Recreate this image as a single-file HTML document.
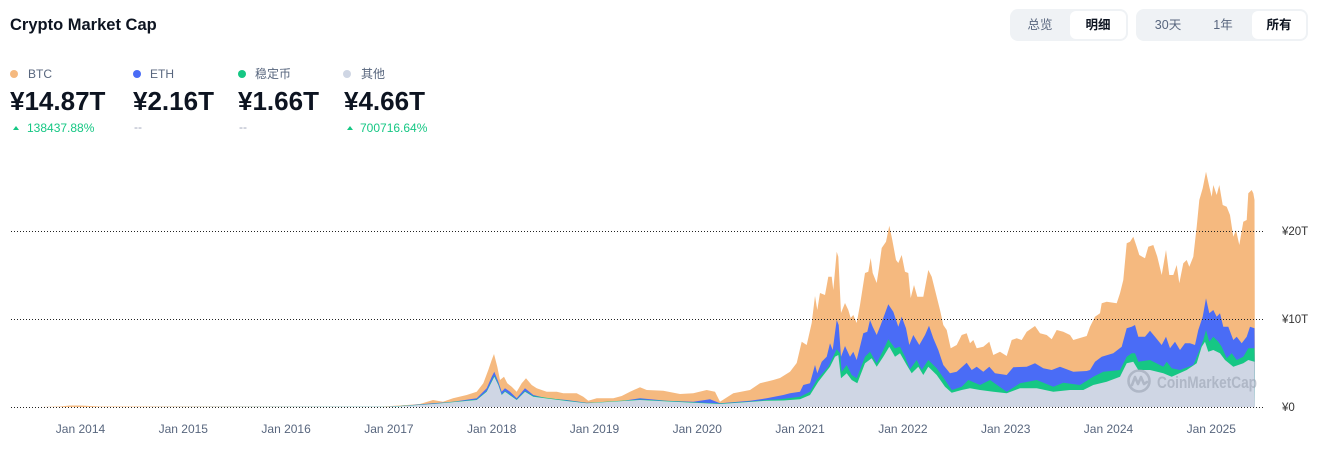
<!DOCTYPE html>
<html><head><meta charset="utf-8">
<style>
*{margin:0;padding:0;box-sizing:border-box}
html,body{width:1318px;height:460px;background:#fff;overflow:hidden}
body{position:relative;font-family:"Liberation Sans","Noto Sans CJK SC",sans-serif;color:#0D1421}
.abs{position:absolute;white-space:nowrap}
.title{left:10px;top:15px;font-size:16.5px;font-weight:bold;line-height:20px}
.grp{position:absolute;top:9px;height:32px;background:#EFF2F5;border-radius:8px}
.btn{position:absolute;top:2px;height:28px;line-height:28px;font-size:12.5px;color:#58667E;text-align:center}
.sel{background:#fff;border-radius:6px;color:#0D1421;font-weight:bold}
.dot{position:absolute;width:8px;height:8px;border-radius:50%}
.lab{font-size:12px;color:#58667E;line-height:14px}
.val{font-size:26px;font-weight:bold;line-height:30px;color:#0D1421}
.pct{font-size:12px;color:#16C784;line-height:14px}
.dash{font-size:12px;color:#A1A7BB;line-height:14px}
.tri{position:absolute;width:0;height:0;border-left:3.5px solid transparent;border-right:3.5px solid transparent;border-bottom:4px solid #16C784}
</style></head><body>
<div class="abs title">Crypto Market Cap</div>

<div class="grp" style="left:1010px;width:118px">
  <div class="btn" style="left:4px;width:52px">总览</div>
  <div class="btn sel" style="left:60px;width:56px">明细</div>
</div>
<div class="grp" style="left:1136px;width:172px">
  <div class="btn" style="left:10px;width:44px">30天</div>
  <div class="btn" style="left:66px;width:42px">1年</div>
  <div class="btn sel" style="left:116px;width:54px">所有</div>
</div>

<!-- legend -->
<div class="dot" style="left:10px;top:70px;background:#F5B97F"></div>
<div class="abs lab" style="left:28px;top:67px">BTC</div>
<div class="abs val" style="left:10px;top:86px">¥14.87T</div>
<div class="tri" style="left:13px;top:126px"></div>
<div class="abs pct" style="left:27px;top:121px">138437.88%</div>

<div class="dot" style="left:133px;top:70px;background:#4A6CF6"></div>
<div class="abs lab" style="left:150px;top:67px">ETH</div>
<div class="abs val" style="left:133px;top:86px">¥2.16T</div>
<div class="abs dash" style="left:134px;top:120px">--</div>

<div class="dot" style="left:238px;top:70px;background:#16C784"></div>
<div class="abs lab" style="left:255px;top:67px">稳定币</div>
<div class="abs val" style="left:238px;top:86px">¥1.66T</div>
<div class="abs dash" style="left:239px;top:120px">--</div>

<div class="dot" style="left:343px;top:70px;background:#CFD6E4"></div>
<div class="abs lab" style="left:361px;top:67px">其他</div>
<div class="abs val" style="left:344px;top:86px">¥4.66T</div>
<div class="tri" style="left:347px;top:126px"></div>
<div class="abs pct" style="left:360px;top:121px">700716.64%</div>

<svg class="abs" style="left:0;top:0" width="1318" height="460" viewBox="0 0 1318 460">
<polygon fill="#F5B97F" points="40,407 60,406.5 70,405.5 80,405.5 90,406 100,406.5 380,406.5 400,405.5 420,404 433,400 443,401.7 453,398.3 466.7,395 476.7,391.7 483.3,383.3 488.3,370 491.7,360 494,354 497.3,366.7 500,380 504,376.7 507.3,383.3 511.7,386.7 516.7,391.7 521.7,383.3 526,378.3 531.7,385 536.7,388.3 546.7,391.7 556.7,391.7 563.3,393.3 576.7,393.3 583.3,396.7 588.3,400.7 596.7,398.3 613.3,398.3 621.7,396 630,391.7 640,387.3 646.7,390 663.3,390.7 680,394 693.3,393.3 706.7,390 715,391.7 720,401.7 733.3,393.3 750,390 760,383.3 773.3,380 780,378 790,371.7 796.7,363 801.7,341.7 806.7,345 811.7,323 815,296 817.3,310 820,293 825,295 828.3,276.7 831.7,276.7 833.3,290 836.7,251.7 838.3,256.7 841,313 845,303 848.3,310 850.7,318 853.3,315 856.7,323 860,305 865,273 868.3,271.7 870.7,258 872.7,273 876.7,283 879,268 881.7,248 886,241.7 889.3,225.7 892.3,240 896,260 898.3,263 901.7,255 905,271.7 908.3,273 910.7,298 914,285 917.3,296.7 923.3,296.7 928.3,270 931.7,276.7 935,290 940,310 943.3,325 946.7,330 950.7,348.3 956.7,345 961.7,335 966.7,333.3 970,343.3 973.3,340 976.7,348.3 983.3,346.7 989.3,341.7 993.3,355 1000,351.7 1006.7,356 1011.7,340 1016.7,338.3 1021.7,340 1026.7,331.7 1035,326 1040,333.3 1046.7,335 1051.7,339.3 1056.7,330 1063.3,331.7 1070,335 1073.3,340 1080,338 1086.7,336 1090,326.7 1095,316.7 1100,313.3 1101.7,303.3 1106.7,301.7 1116.7,303.3 1120,293.3 1123.3,280 1126.7,243.3 1130,241.7 1133.3,236.7 1136.7,246.7 1139.3,255 1145,258.3 1148.3,246.7 1153.3,245 1157.3,256.7 1161.7,275 1166,250 1169.3,275 1173.3,275 1176.7,265 1179.3,283.3 1183.3,263.3 1186.7,260 1189.3,266.7 1193.3,256.7 1196.7,226.7 1199.3,200 1202.7,188.3 1206,171.7 1209.3,186.7 1211.7,196.7 1213.3,185 1216.7,195 1219.3,185 1222.7,205 1226.7,206.7 1230,215 1233.3,236.7 1236,230 1239.3,245 1243.3,221.7 1246.7,220 1248.3,193.3 1251.7,190 1253.3,193.3 1254.5,200 1255,407"/>
<polygon fill="#4A6CF6" points="40,407 380,406.8 400,406 433,403.3 453,401.7 476.7,398.3 486.7,388.3 491.7,376.7 494.3,371.7 498.3,381.7 501.7,391.7 505,388.3 510,391.7 516.7,398.3 525,388.3 533.3,395 546.7,398.3 566.7,400 586.7,402.7 613.3,402.3 640,398.3 666.7,400.7 693.3,401.7 710,399.3 720,403.3 750,400.7 766.7,398.3 783.3,395 790,393.3 800,391.7 803.3,385 810,383.3 815,365 817.3,373.3 821.7,361.7 826.7,356.7 830,343.3 832.7,350 836.7,320 838.7,325 841,356.7 845,346 850,356.7 853.3,351.7 856.7,360 863.3,333.3 867.3,331.7 870,320 872.7,326.7 876.7,335 880,326.7 885,313.3 888.3,304.3 893.3,311.7 898.3,326.7 901.7,316.7 906,328.3 909.3,345 913.3,335 919.3,345 925,335 929,325.7 933.3,338.3 938.3,350 943.3,365 950,373.3 956.7,371.7 966.7,362.7 971.7,370 976.7,366.7 983.3,371.7 989.3,366.7 995,373.3 1006.7,375 1013.3,367.3 1026.7,366.7 1035,363.3 1043.3,368.3 1051.7,370 1060,366.7 1073.3,371.7 1086.7,371 1090,370 1095,361.7 1101.7,356.7 1113.3,353.3 1121.7,346.7 1126.7,328.3 1131.7,326.7 1135,325 1138.3,336.7 1145,336.7 1150,330.7 1155,336.7 1161.7,345 1166,336.7 1170,348.3 1175,341.7 1180,350 1185,343.3 1190,343.3 1195,345 1198.3,330 1202.7,316.7 1206,298.3 1209.3,313.3 1213.3,310 1216.7,316.7 1220,313.3 1223.3,326.7 1228.3,326.7 1233.3,340 1236.7,336.7 1241.7,343.3 1246.7,336.7 1250,326.7 1254.5,328.3 1255,407"/>
<polygon fill="#16C784" points="40,407 380,406.8 400,406 433,403.8 476.7,399.5 486.7,391 494.3,375.5 498.3,384 501.7,394.5 505,391 516.7,399.5 525,391 533.3,396 566.7,400.5 586.7,403 640,399.5 693.3,402.3 720,403.5 750,401.5 766.7,400 780,399.3 800,396.7 810,391.7 816.7,380 828.3,366.7 836.7,349.3 840,353.3 841.7,371.7 846.7,365 851.7,375 856.7,378.3 865,356.7 870,351.7 876.7,363.3 883.3,350 888.3,339.3 895,348.3 900,346.7 905,356.7 910,369.3 916.7,360 921.7,370 928.3,360 936.7,368.3 945,380 951.7,390 961.7,386.7 968.3,380 980,385 990,380 1006.7,391.7 1020,383.3 1036.7,380 1053.3,386.7 1063.3,382.7 1080,385 1093.3,376.7 1103.3,371.7 1120,370 1126.7,356.7 1131.7,353.3 1135,353.3 1138.3,361.7 1150,360 1163.3,366.7 1166.7,361.7 1171.7,368.3 1180,370 1193.3,365 1198.3,353.3 1203.3,340 1206,330 1209.3,341.7 1213.3,336.7 1218.3,341.7 1221.7,346.7 1226.7,358.3 1231.7,353.3 1236.7,360 1243.3,356.7 1248.3,348.3 1254.5,348.3 1255,407"/>
<polygon fill="#CFD6E4" points="40,407 380,406.8 400,406.2 433,404 476.7,400 486.7,391.7 494.3,376.7 498.3,385 501.7,395 505,391.7 516.7,400 525,391.7 533.3,396.7 566.7,401 586.7,403.3 640,400 693.3,402.7 720,404 766.7,400.7 783.3,400.5 800,399.3 810,395 818.3,381.7 830,366.7 835,356.7 838.3,355 841,378.3 846.7,373.3 851.7,380 857.3,383.3 865,363.3 871.7,358.3 876.7,366.7 883.3,356.7 889.3,346.7 895,356.7 900,353.3 906.7,365 911.7,373.3 918.3,366.7 923.3,375 928.3,366.7 936.7,375 945,386.7 951.7,392.7 961.7,390 970,388.3 980,390 993.3,391.7 1006.7,393.3 1020,388.3 1036.7,388.3 1053.3,391.7 1070,390 1083.3,390 1093.3,385 1106.7,381.7 1120,376.7 1126.7,363.3 1133.3,361.7 1138.3,370 1150,370 1163.3,373.3 1171.7,376.7 1186.7,370 1196.7,363.3 1201.7,346.7 1205,341.7 1208.3,351.7 1213.3,350 1220,353.3 1225,360 1233.3,366.7 1243.3,363.3 1248.3,360 1254.5,361.7 1255,407"/>

<g opacity="0.6" fill="none" stroke="#9AA3B3" stroke-width="2.6">
  <circle cx="1139" cy="381" r="10.5"/>
  <path d="M1132,385 L1135,377 L1138,384 L1141,377 L1144,384 L1147,382" stroke-linejoin="round" stroke-linecap="round"/>
</g>
<text x="1157" y="388" font-family="Liberation Sans, sans-serif" font-size="17" font-weight="bold" fill="#9AA3B3" opacity="0.6" textLength="100" lengthAdjust="spacingAndGlyphs">CoinMarketCap</text>

<g stroke="#222" stroke-width="1" stroke-dasharray="1 2">
  <line x1="11" y1="231.5" x2="1265" y2="231.5"/>
  <line x1="11" y1="319.5" x2="1265" y2="319.5"/>
  <line x1="11" y1="407.5" x2="1265" y2="407.5"/>
</g>

<g font-family="Liberation Sans, sans-serif" font-size="11.5" fill="#333">
  <text x="1282" y="235">¥20T</text>
  <text x="1282" y="323">¥10T</text>
  <text x="1282" y="411">¥0</text>
</g>

<g font-family="Liberation Sans, sans-serif" font-size="12" fill="#58667E" text-anchor="middle">
  <text x="80.5" y="433">Jan 2014</text>
  <text x="183.3" y="433">Jan 2015</text>
  <text x="286.1" y="433">Jan 2016</text>
  <text x="388.9" y="433">Jan 2017</text>
  <text x="491.7" y="433">Jan 2018</text>
  <text x="594.5" y="433">Jan 2019</text>
  <text x="697.3" y="433">Jan 2020</text>
  <text x="800.1" y="433">Jan 2021</text>
  <text x="902.9" y="433">Jan 2022</text>
  <text x="1005.7" y="433">Jan 2023</text>
  <text x="1108.5" y="433">Jan 2024</text>
  <text x="1211.3" y="433">Jan 2025</text>
</g>
</svg>
</body></html>
